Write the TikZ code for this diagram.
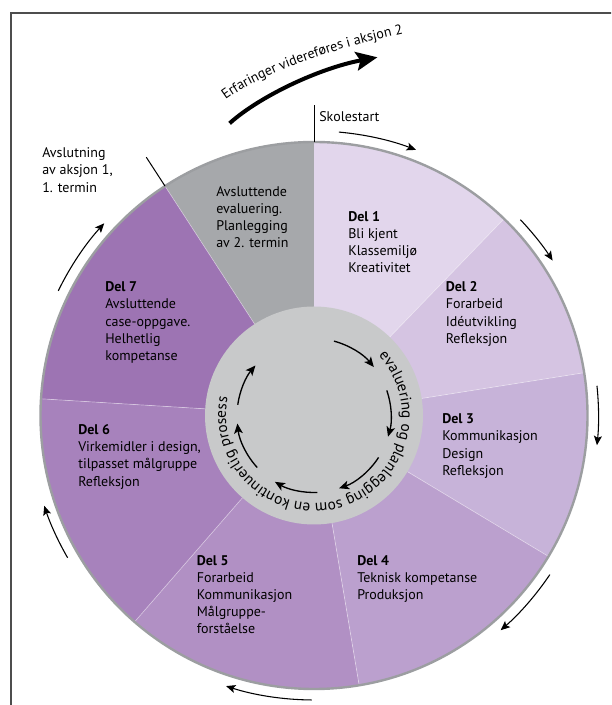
\documentclass[tikz,border=0pt]{standalone}
\usepackage{fontspec}
\setmainfont{PT Sans}
\usetikzlibrary{arrows.meta,decorations.text}

\definecolor{framegray}{HTML}{4D4D4D}
\definecolor{ringline}{HTML}{9C9EA1}
\definecolor{hubgray}{HTML}{C8C9CA}
\definecolor{secgray}{HTML}{A6A8AB}
\definecolor{secA}{HTML}{E2D6EC}
\definecolor{secB}{HTML}{D5C4E2}
\definecolor{secC}{HTML}{C7B3D9}
\definecolor{secD}{HTML}{BBA0CE}
\definecolor{secE}{HTML}{B190C4}
\definecolor{secF}{HTML}{A782BC}
\definecolor{secG}{HTML}{9D74B3}

\newcommand{\lblfont}{\fontsize{10.5}{12.9}\selectfont}
\newcommand{\hubfont}{\fontsize{11.5}{13}\selectfont}

\begin{document}
\begin{tikzpicture}[x=0.75pt,y=0.75pt,
  % multi-line labels are anchored at the baseline of their last line
  lbl/.style={anchor=base west, align=left, inner sep=0pt, font=\lblfont, text=black},
  seam/.style={white, opacity=0.45, line width=0.5pt},
  ringarrow/.style={line width=0.8pt, -{Stealth[length=7pt,width=6pt,inset=1.5pt]}},
  cyclearrow/.style={line width=1pt, -{Stealth[length=7.5pt,width=6.5pt,inset=1.8pt]}},
  bigarrow/.style={line width=3pt, -{Stealth[length=16pt,width=14pt,inset=3pt]}},
  tickline/.style={line width=0.75pt}
  ]
\useasboundingbox (0,0) rectangle (611,705);
\clip (0,0) rectangle (611,705);
\fill[white] (0,0) rectangle (611,705);

% outer frame (left and top edges)
\draw[framegray, line width=1.3pt] (11,-10) -- (11,692.3) -- (625,692.3);

\coordinate (c) at (314,289.5);
\def\ringR{273.5}
\def\hubR{109}
\begin{scope}[shift={(c)}]
  % sectors
  \fill[secgray] (0,0) -- (123:\ringR) arc[start angle=123,end angle=90,radius=\ringR] -- cycle;
  \fill[secA] (0,0) -- (90:\ringR) arc[start angle=90,end angle=46,radius=\ringR] -- cycle;
  \fill[secB] (0,0) -- (46:\ringR) arc[start angle=46,end angle=9,radius=\ringR] -- cycle;
  \fill[secC] (0,0) -- (9:\ringR) arc[start angle=9,end angle=-31,radius=\ringR] -- cycle;
  \fill[secD] (0,0) -- (-31:\ringR) arc[start angle=-31,end angle=-80.5,radius=\ringR] -- cycle;
  \fill[secE] (0,0) -- (-80.5:\ringR) arc[start angle=-80.5,end angle=-131,radius=\ringR] -- cycle;
  \fill[secF] (0,0) -- (229:\ringR) arc[start angle=229,end angle=176.5,radius=\ringR] -- cycle;
  \fill[secG] (0,0) -- (176.5:\ringR) arc[start angle=176.5,end angle=123,radius=\ringR] -- cycle;
  % seams between sectors
  \foreach \a in {46,9,-31,-80.5,-131,176.5,123}
    \draw[seam] (\a:\hubR) -- (\a:\ringR);
  % rim
  \draw[ringline, line width=1.8pt] (0,0) circle[radius=\ringR];
  % hub
  \fill[hubgray] (0,0) circle[radius=\hubR];

  % phase arrows round the rim
  \foreach \s/\e in {85/69, 43.5/33, 6/-6, -34/-49, -90.5/-108, -150/-161.5, 154/137.5}
    \draw[ringarrow] (\s:284.5) arc[start angle=\s,end angle=\e,radius=284.5];

  % cycle arrows in the hub
  \foreach \s/\e in {75/39, 19/-16, -33/-71, -87.5/-120.5, -137.5/-174, 172/139.5}
    \draw[cyclearrow] (\s:77) arc[start angle=\s,end angle=\e,radius=77];

  % hub text
  \path[decorate, decoration={text along path, text align=center,
      text={|\hubfont|evaluering og planlegging som en kontinuerlig prosess}}]
    (80:88) arc[start angle=80,end angle=-229,radius=88];

  % ticks at start and end of term
  \coordinate (skA) at (90:\ringR);
  \coordinate (skB) at (90:310);
  \coordinate (avA) at (123:\ringR);
  \coordinate (avB) at (123:308);
\end{scope}
\draw[tickline] (skA) -- (skB);
\draw[tickline] (avA) -- (avB);

% carry-over arrow and its label
\coordinate (ca) at (229.6,581.7);
\coordinate (cb) at (377.4,647.7);
\draw[bigarrow] (ca) .. controls (260,609) and (320,637) .. (cb);
\path[decorate, decoration={text along path, text align=left,
    text={|\lblfont|Erfaringer videreføres i aksjon 2}}]
  (225.7,605) .. controls (262,632) and (335,658) .. (415,674);

% labels
\node[lbl] (skole) at (319,583.5) {Skolestart};
\node[lbl] (avsl) at (42,512.8) {Avslutning\\av aksjon 1,\\1. termin};
\node[lbl] (evalb) at (216,457.2) {Avsluttende\\evaluering.\\Planlegging\\av 2. termin};
\node[lbl] (del1) at (348,432.2) {\textbf{Del 1}\\Bli kjent\\Klassemiljø\\Kreativitet};
\node[lbl] (del2) at (445.5,361.6) {\textbf{Del 2}\\Forarbeid\\Idéutvikling\\Refleksjon};
\node[lbl] (del7) at (105,344.4) {\textbf{Del 7}\\Avsluttende\\case-oppgave.\\Helhetlig\\kompetanse};
\node[lbl] (del6) at (78,218.9) {\textbf{Del 6}\\Virkemidler i design,\\tilpasset målgruppe\\Refleksjon};
\node[lbl] (del3) at (442,229.6) {\textbf{Del 3}\\Kommunikasjon\\Design\\Refleksjon};
\node[lbl] (del5) at (196.5,71) {\textbf{Del 5}\\Forarbeid\\Kommunikasjon\\Målgruppe-\\forståelse};
\node[lbl] (del4) at (357,105.4) {\textbf{Del 4}\\Teknisk kompetanse\\Produksjon};
\end{tikzpicture}
\end{document}
